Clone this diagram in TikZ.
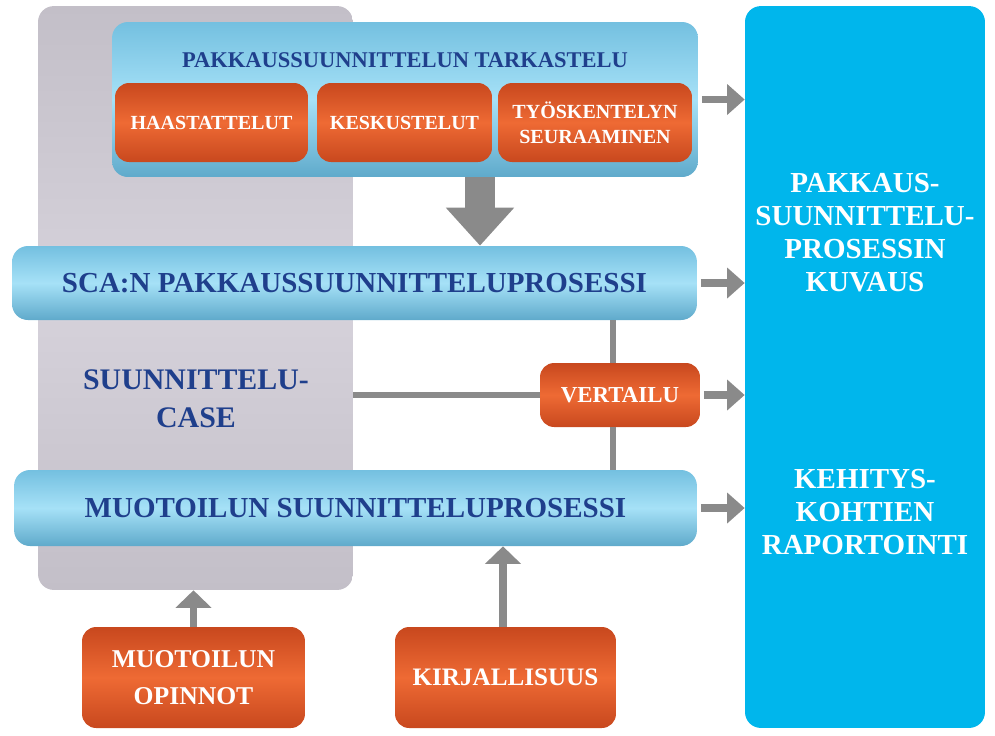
\documentclass[tikz,border=0pt]{standalone}
\usepackage{fontspec}
\setmainfont{Liberation Serif}
\usetikzlibrary{calc,arrows.meta,positioning}
\definecolor{navyTxt}{HTML}{1F3F8C}
\definecolor{blueL}{HTML}{A6E1F7}
\definecolor{blueD}{HTML}{74C0E0}
\definecolor{blueB}{HTML}{5FAACB}
\definecolor{orangeL}{HTML}{EE6A34}
\definecolor{orangeD}{HTML}{C8481E}
\definecolor{caseGrey}{HTML}{D6D2DB}
\definecolor{caseEdge}{HTML}{C3BFC8}
\definecolor{outCyan}{HTML}{00B6EC}
\definecolor{arrGrey}{HTML}{8A8A8A}

\begin{document}
\begin{tikzpicture}[x=0.02cm, y=-0.02cm,
    blueBox/.style={rounded corners=9pt, inner sep=0pt, top color=blueD, bottom color=blueB, middle color=blueL, text=navyTxt, font=\bfseries\fontsize{16.5}{19}\selectfont},
    orangeBox/.style={rounded corners=8pt, inner sep=0pt, align=center, top color=orangeD, bottom color=orangeD, middle color=orangeL, text=white},
    arr/.style={draw=arrGrey, line width=4pt, shorten <=2pt, -{Triangle[width=17pt,length=10pt]}},
    upArr/.style={draw=arrGrey, line width=4.5pt, -{Triangle[width=20pt,length=10pt]}},
    ln/.style={draw=arrGrey, line width=3.5pt}]
        \useasboundingbox (0,0) rectangle (995,735);
        % case background
        \node[rounded corners=9pt, top color=caseEdge, bottom color=caseEdge, middle color=caseGrey, minimum width=6.3cm, minimum height=11.68cm](caseBox) at (195.5,298) {};
        \node[text=navyTxt, align=center, font=\bfseries\fontsize{17}{21.5}\selectfont](caseTxt) at (196,399) {SUUNNITTELU-\\CASE};
        % output
        \node[rounded corners=9pt, fill=outCyan, minimum width=4.8cm, minimum height=14.44cm](outBox) at (865,367) {};
        \node[text=white, align=center, font=\bfseries\fontsize{16.5}{18.8}\selectfont](outTop) at (865,233) {PAKKAUS-\\SUUNNITTELU-\\PROSESSIN\\KUVAUS};
        \node[text=white, align=center, font=\bfseries\fontsize{16.5}{18.8}\selectfont](outBot) at (865,512) {KEHITYS-\\KOHTIEN\\RAPORTOINTI};
        % tarkastelu
        \node[blueBox, minimum width=11.72cm, minimum height=3.1cm](tark) at (405,99.5) {};
        \node[text=navyTxt, font=\bfseries\fontsize{12.8}{15}\selectfont](tarkTitle) at (405,60) {PAKKAUSSUUNNITTELUN TARKASTELU};
        \node[orangeBox, minimum width=3.86cm, minimum height=1.58cm, font=\bfseries\fontsize{11.4}{14}\selectfont](haas) at (211.5,122.5) {HAASTATTELUT};
        \node[orangeBox, minimum width=3.5cm, minimum height=1.58cm, font=\bfseries\fontsize{11.4}{14}\selectfont](kesk) at (404.5,122.5) {KESKUSTELUT};
        \node[orangeBox, minimum width=3.88cm, minimum height=1.58cm, font=\bfseries\fontsize{11.4}{14}\selectfont](tyo) at (595,122.5) {TYÖSKENTELYN\\SEURAAMINEN};
        % processes
        \node[blueBox, minimum width=13.7cm, minimum height=1.48cm](sca) at (354.5,283) {SCA:N PAKKAUSSUUNNITTELUPROSESSI};
        \node[blueBox, minimum width=13.66cm, minimum height=1.52cm](muot) at (355.5,508) {MUOTOILUN SUUNNITTELUPROSESSI};
        \node[orangeBox, minimum width=3.2cm, minimum height=1.28cm, font=\bfseries\fontsize{13}{15}\selectfont](vert) at (620,395) {VERTAILU};
        % sources
        \node[orangeBox, minimum width=4.46cm, minimum height=2.02cm, font=\bfseries\fontsize{14.6}{21}\selectfont](opin) at (193.5,677.5) {MUOTOILUN\\OPINNOT};
        \node[orangeBox, minimum width=4.42cm, minimum height=2.02cm, font=\bfseries\fontsize{14.3}{17}\selectfont](kirj) at (505.5,677.5) {KIRJALLISUUS};
        % lines
        \coordinate(vx) at (613,0);
        \coordinate(dx) at (480,0);
        \path[ln](sca.south -| vx) to (vert.north -| vx);
        \path[ln](vert.south -| vx) to (muot.north -| vx);
        \path[ln](vert.west -| caseBox.east) to (vert.west);
        % arrows
        \path[draw=arrGrey, line width=0.6cm, -{Triangle[width=1.32cm,length=0.76cm]}](tark.south -| dx) to (sca.north -| dx);
        \path[arr](tark.east) to (tark.east -| outBox.west);
        \path[arr](sca.east) to (sca.east -| outBox.west);
        \path[arr](vert.east) to (vert.east -| outBox.west);
        \path[arr](muot.east) to (muot.east -| outBox.west);
        \path[upArr](opin.north) to (opin.north |- caseBox.south);
        \path[upArr](kirj.north -| 503,0) to (muot.south -| 503,0);
    \end{tikzpicture}
\end{document}
